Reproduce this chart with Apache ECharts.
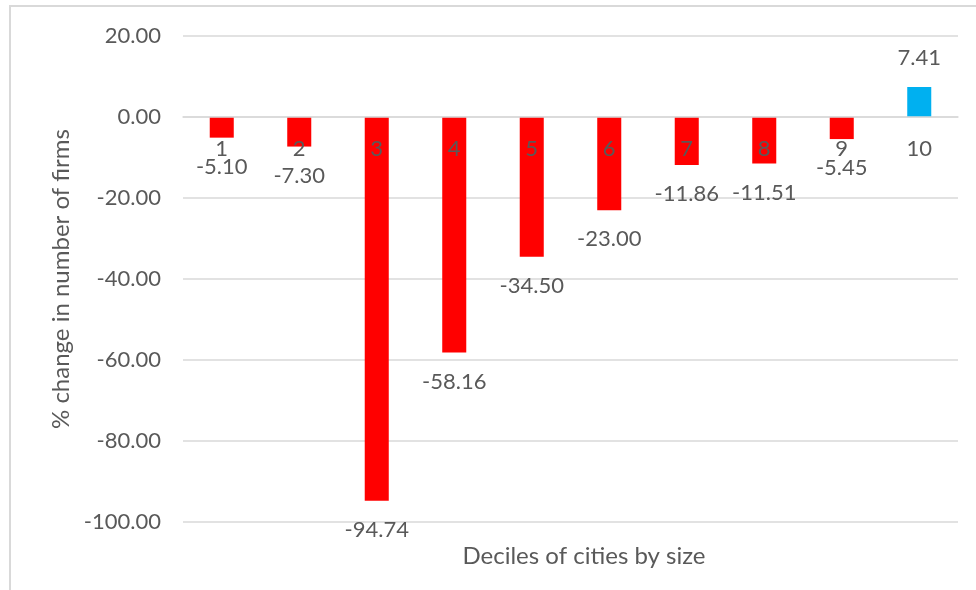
<!DOCTYPE html>
<html>
<head>
<meta charset="utf-8">
<script src="https://cdn.jsdelivr.net/npm/echarts@6/dist/echarts.min.js"></script>
<style>
  html, body { margin: 0; padding: 0; background: #ffffff; }
  #chart { width: 976px; height: 590px; }
</style>
</head>
<body>
<div id="chart"></div>
<script>
// Deciles of cities by size and the % change in number of firms for each
const categories = ['1', '2', '3', '4', '5', '6', '7', '8', '9', '10'];
const changeValues = [-5.10, -7.30, -94.74, -58.16, -34.50, -23.00, -11.86, -11.51, -5.45, 7.41];
const yTicks = { min: -100, max: 20, interval: 20 };

const textColor = '#595959';
const gridColor = '#d9d9d9';
const fontFamily = 'Lato, "Open Sans", sans-serif';

const plotTop = 36;
const plotHeight = 486;
// category axis sits on the zero line of the value axis
const zeroOffset = -plotHeight * (0 - yTicks.min) / (yTicks.max - yTicks.min);

const barData = changeValues.map(function (v) {
  return {
    value: v,
    itemStyle: { color: v < 0 ? '#ff0000' : '#00b0f0' },
    label: { position: v < 0 ? 'bottom' : 'top' }
  };
});

const chart = echarts.init(document.getElementById('chart'), null, { renderer: 'canvas' });

chart.setOption({
  backgroundColor: '#ffffff',
  animation: false,
  textStyle: { fontFamily: fontFamily },
  grid: { left: 183, right: 18, top: plotTop, height: plotHeight, containLabel: false },
  graphic: [
    {
      type: 'rect',
      shape: { x: 10, y: 6, width: 1200, height: 1200 },
      style: { fill: 'none', stroke: gridColor, lineWidth: 2 },
      silent: true
    },
    {
      type: 'text',
      x: 584,
      y: 556,
      style: {
        text: 'Deciles of cities by size',
        fill: textColor,
        font: '24px ' + fontFamily,
        textAlign: 'center',
        textVerticalAlign: 'middle'
      }
    }
  ],
  xAxis: {
    type: 'category',
    data: categories,
    z: 5,
    offset: zeroOffset,
    axisLine: { show: true, onZero: false, lineStyle: { color: gridColor, width: 1.5 } },
    axisTick: { show: false },
    axisLabel: { color: textColor, fontSize: 22, margin: 21, fontFamily: fontFamily },
    splitLine: { show: false }
  },
  yAxis: {
    type: 'value',
    min: yTicks.min,
    max: yTicks.max,
    interval: yTicks.interval,
    name: '% change in number of firms',
    nameLocation: 'middle',
    nameGap: 107,
    nameTextStyle: { color: textColor, fontSize: 24, fontFamily: fontFamily },
    axisLine: { show: false },
    axisTick: { show: false },
    axisLabel: {
      color: textColor,
      fontSize: 22,
      margin: 22,
      fontFamily: fontFamily,
      formatter: function (v) { return v.toFixed(2); }
    },
    splitLine: { lineStyle: { color: gridColor, width: 1.5 } }
  },
  series: [
    {
      type: 'bar',
      data: barData,
      barWidth: '31%',
      label: {
        show: true,
        color: textColor,
        fontSize: 22,
        distance: 18,
        fontFamily: fontFamily,
        formatter: function (p) { return p.value.toFixed(2); }
      }
    }
  ]
});
</script>
</body>
</html>
